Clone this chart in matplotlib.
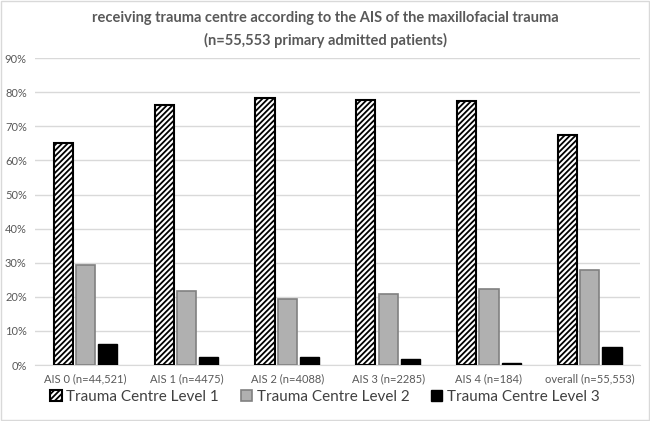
import matplotlib.pyplot as plt
import numpy as np
from matplotlib.ticker import PercentFormatter

categories = ['AIS 0 (n=44,521)', 'AIS 1 (n=4475)', 'AIS 2 (n=4088)',
              'AIS 3 (n=2285)', 'AIS 4 (n=184)', 'overall (n=55,553)']
level1 = [65.0, 76.3, 78.3, 77.8, 77.4, 67.4]
level2 = [29.4, 21.7, 19.4, 20.8, 22.4, 27.8]
level3 = [6.1, 2.3, 2.3, 1.8, 0.7, 5.4]
series_names = ['Trauma Centre Level 1', 'Trauma Centre Level 2', 'Trauma Centre Level 3']

plt.rcParams['font.family'] = ['Lato', 'DejaVu Sans']
plt.rcParams['hatch.linewidth'] = 1.3

fig = plt.figure(figsize=(6.5, 4.21), dpi=100)
ax = fig.add_axes([0.054, 0.133, 0.931, 0.729])

x = np.arange(len(categories))
w = 0.19
ax.bar(x - 0.22, level1, w, color='white', edgecolor='black', hatch='//////',
       linewidth=1.5, label=series_names[0], zorder=3)
ax.bar(x, level2, w, color='#b0b0b0', edgecolor='#808080',
       linewidth=1.2, label=series_names[1], zorder=3)
ax.bar(x + 0.22, level3, w, color='black', edgecolor='black',
       linewidth=1, label=series_names[2], zorder=3)

ax.set_xlim(-0.5, len(categories) - 0.5)
ax.set_ylim(0, 90)
ax.set_yticks(np.arange(0, 91, 10))
ax.yaxis.set_major_formatter(PercentFormatter(decimals=0))
ax.set_xticks(x)
ax.set_xticklabels(categories)
ax.tick_params(axis='both', length=0, labelsize=8, colors='#595959', pad=6)
ax.grid(axis='y', color='#d9d9d9', linewidth=1, zorder=0)
for s in ['top', 'right', 'left']:
    ax.spines[s].set_visible(False)
ax.spines['bottom'].set_color('#d9d9d9')

fig.text(0.5, 0.958, 'receiving trauma centre according to the AIS of the maxillofacial trauma',
         ha='center', va='center', fontsize=10.5, fontweight='bold', color='#595959')
fig.text(0.5, 0.905, '(n=55,553 primary admitted patients)',
         ha='center', va='center', fontsize=10.5, fontweight='bold', color='#595959')

fig.legend(loc='center', bbox_to_anchor=(0.5, 0.057), ncol=3, frameon=False,
           fontsize=11, labelcolor='#404040', handlelength=0.75, handleheight=0.75,
           handletextpad=0.3, columnspacing=1.4)

fig.patches.append(plt.Rectangle((0.002, 0.002), 0.996, 0.996, transform=fig.transFigure,
                                 fill=False, edgecolor='#d9d9d9', linewidth=1))

fig.savefig('out.png', dpi=100)
